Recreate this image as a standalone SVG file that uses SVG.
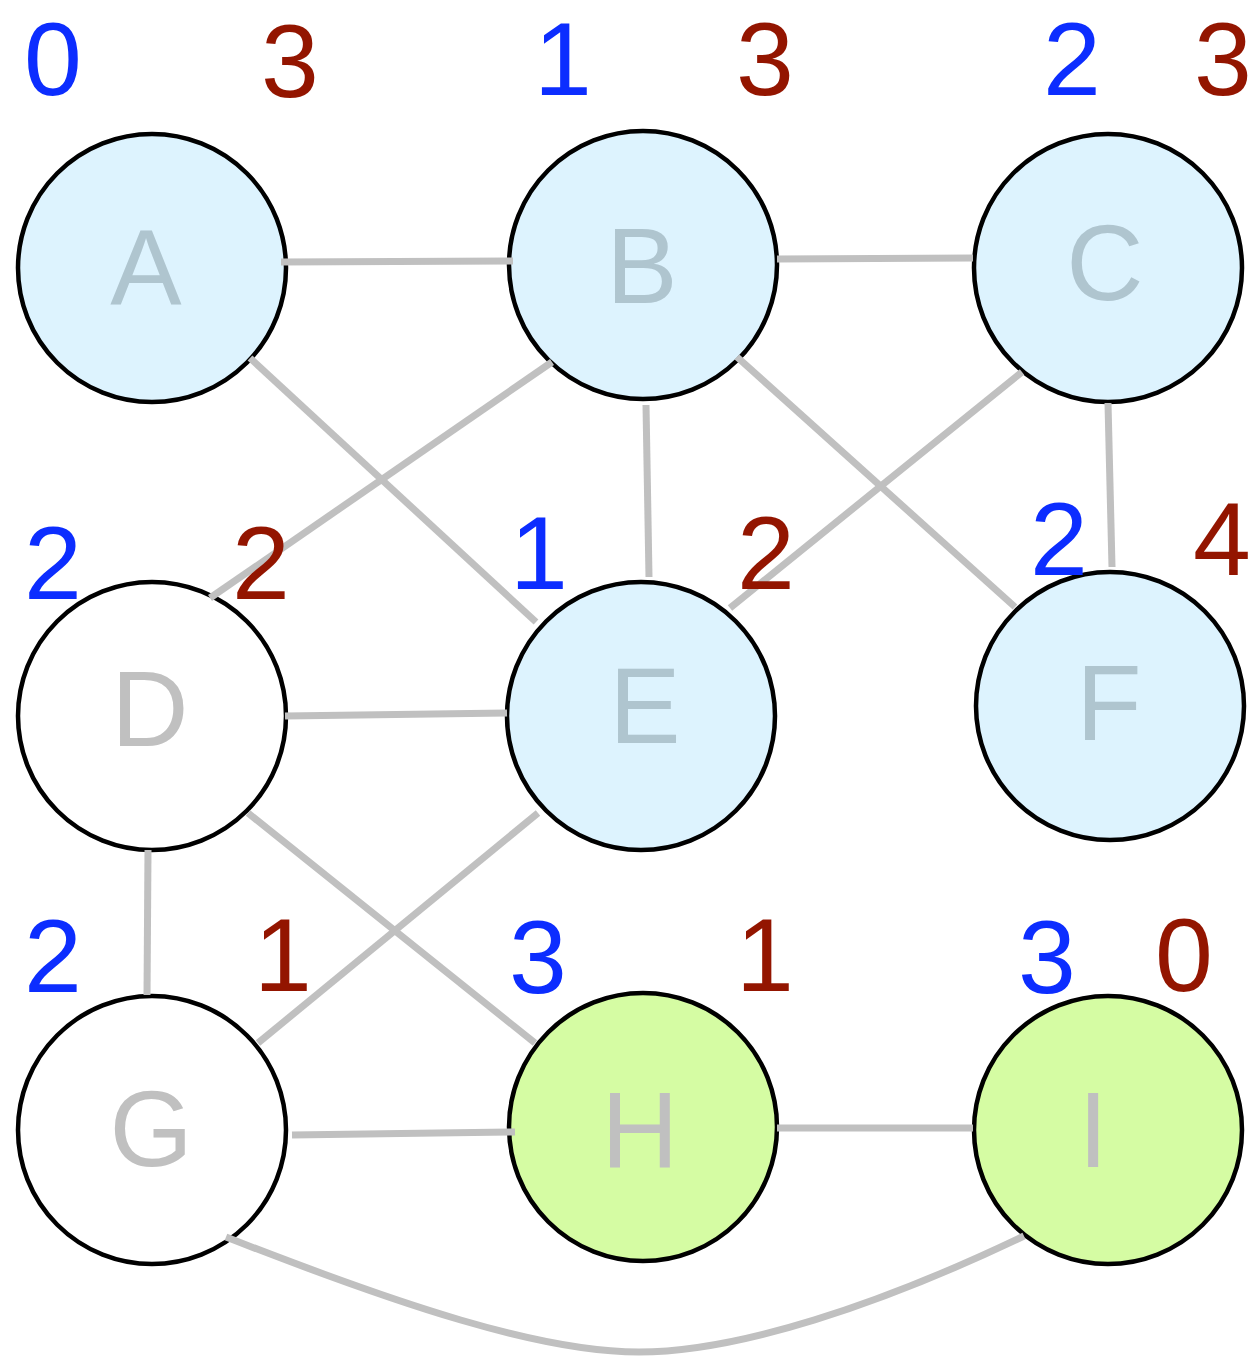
<svg xmlns="http://www.w3.org/2000/svg" width="1257" height="1358" viewBox="0 0 1257 1358">
  <style>
    .node { stroke: #000; stroke-width: 4.5; }
    .visited { fill: #ddf3fe; }
    .open { fill: #ffffff; }
    .done { fill: #d5fca3; }
    .name { font-family: "Liberation Sans", Arial, sans-serif; font-size: 107px; text-anchor: middle; }
    .name.onblue { fill: #afc5cf; }
    .name.ongray { fill: #c0c0c0; }
    .edge { fill: none; stroke: #c0c0c0; stroke-width: 7; stroke-linecap: butt; }
    .num { font-family: "Liberation Sans", Arial, sans-serif; font-size: 104px; text-anchor: middle; }
    .lo { fill: #0c2dff; }
    .hi { fill: #931500; }
  </style>
  <rect width="1257" height="1358" fill="#ffffff"/>

  <!-- nodes -->
  <g id="A"><circle class="node visited" cx="152" cy="268" r="134"/><text class="name onblue" x="146" y="305">A</text></g>
  <g id="B"><circle class="node visited" cx="643" cy="265" r="134"/><text class="name onblue" x="642" y="303">B</text></g>
  <g id="C"><circle class="node visited" cx="1108" cy="268" r="134"/><text class="name onblue" x="1105" y="300">C</text></g>
  <g id="D"><circle class="node open" cx="152" cy="716" r="134"/><text class="name ongray" x="150" y="746">D</text></g>
  <g id="E"><circle class="node visited" cx="641" cy="716" r="134"/><text class="name onblue" x="645" y="743">E</text></g>
  <g id="F"><circle class="node visited" cx="1110" cy="706" r="134"/><text class="name onblue" x="1109" y="740">F</text></g>
  <g id="G"><circle class="node open" cx="152" cy="1130" r="134"/><text class="name ongray" x="151" y="1166">G</text></g>
  <g id="H"><circle class="node done" cx="643" cy="1127" r="134"/><text class="name ongray" x="640" y="1167">H</text></g>
  <g id="I"><circle class="node done" cx="1108" cy="1130" r="134"/><text class="name ongray" x="1093" y="1167">I</text></g>

  <!-- connectors -->
  <g id="edges">
    <line class="edge" x1="281" y1="262" x2="513" y2="261"/>
    <line class="edge" x1="777" y1="259" x2="973" y2="258"/>
    <line class="edge" x1="250" y1="358" x2="536" y2="622"/>
    <line class="edge" x1="552" y1="362" x2="210" y2="598"/>
    <line class="edge" x1="646" y1="405" x2="649" y2="577"/>
    <line class="edge" x1="737" y1="357" x2="1015" y2="607"/>
    <line class="edge" x1="1022" y1="372" x2="730" y2="608"/>
    <line class="edge" x1="1108" y1="403" x2="1112" y2="567"/>
    <line class="edge" x1="285" y1="716" x2="507" y2="713"/>
    <line class="edge" x1="148" y1="850" x2="147" y2="995"/>
    <line class="edge" x1="248" y1="813" x2="535" y2="1043"/>
    <line class="edge" x1="538" y1="813" x2="258" y2="1043"/>
    <line class="edge" x1="292" y1="1135" x2="515" y2="1132"/>
    <line class="edge" x1="777" y1="1128" x2="973" y2="1128"/>
    <path class="edge" d="M226,1237 C400,1305 540,1352 639,1352 S880,1305 1024,1236"/>
  </g>

  <!-- per-node counters -->
  <g id="A-counts"><text class="num lo" x="53" y="95">0</text><text class="num hi" x="290" y="97">3</text></g>
  <g id="B-counts"><text class="num lo" x="563" y="95">1</text><text class="num hi" x="765" y="95">3</text></g>
  <g id="C-counts"><text class="num lo" x="1072" y="95">2</text><text class="num hi" x="1223" y="95">3</text></g>
  <g id="D-counts"><text class="num lo" x="53" y="599">2</text><text class="num hi" x="261" y="599">2</text></g>
  <g id="E-counts"><text class="num lo" x="539" y="589">1</text><text class="num hi" x="766" y="589">2</text></g>
  <g id="F-counts"><text class="num lo" x="1059" y="575">2</text><text class="num hi" x="1222" y="575">4</text></g>
  <g id="G-counts"><text class="num lo" x="53" y="992">2</text><text class="num hi" x="283" y="991">1</text></g>
  <g id="H-counts"><text class="num lo" x="538" y="993">3</text><text class="num hi" x="765" y="991">1</text></g>
  <g id="I-counts"><text class="num lo" x="1047" y="993">3</text><text class="num hi" x="1184" y="991">0</text></g>
</svg>
